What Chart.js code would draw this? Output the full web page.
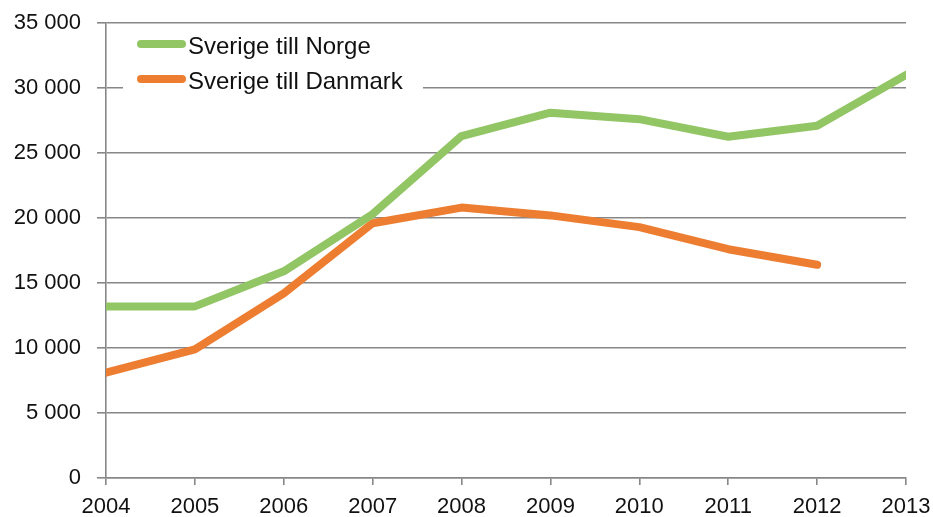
<!DOCTYPE html>
<html>
<head>
<meta charset="utf-8">
<script src="https://cdn.jsdelivr.net/npm/chart.js@4.4.1/dist/chart.umd.min.js"></script>
<style>
  html, body { margin: 0; padding: 0; background: #ffffff; }
  #wrap { position: relative; width: 933px; height: 517px; }
</style>
</head>
<body>
<div id="wrap"><canvas id="c" width="933" height="517"></canvas></div>
<script>
const years = ['2004','2005','2006','2007','2008','2009','2010','2011','2012','2013'];
const norge = [13200, 13200, 15900, 20300, 26300, 28100, 27600, 26250, 27100, 31000];
const danmark = [8100, 9900, 14200, 19600, 20800, 20200, 19300, 17600, 16400, null];
const seriesNames = ['Sverige till Norge', 'Sverige till Danmark'];
const seriesColors = ['#92C564', '#ED7D31'];
const yMin = 0, yMax = 35000, yStep = 5000;

const FONT = 'Liberation Sans';
const gridColor = '#878787';

function fmt(v) {
  return String(v).replace(/\B(?=(\d{3})+(?!\d))/g, ' ');
}

const legendPlugin = {
  id: 'insideLegend',
  afterDraw(chart) {
    const ctx = chart.ctx;
    ctx.save();
    ctx.fillStyle = '#ffffff';
    ctx.fillRect(123, 27, 300, 70);
    const rows = [44, 79];
    chart.data.datasets.forEach((ds, i) => {
      const y = rows[i];
      ctx.strokeStyle = ds.borderColor;
      ctx.lineWidth = 8;
      ctx.lineCap = 'round';
      ctx.beginPath();
      ctx.moveTo(141, y);
      ctx.lineTo(182, y);
      ctx.stroke();
      ctx.fillStyle = '#111111';
      ctx.font = '24px "' + FONT + '"';
      ctx.textAlign = 'left';
      ctx.textBaseline = 'alphabetic';
      ctx.fillText(ds.label, 188, y + 10);
    });
    ctx.restore();
  }
};

new Chart(document.getElementById('c'), {
  type: 'line',
  data: {
    labels: years,
    datasets: [
      {
        label: seriesNames[0],
        data: norge,
        borderColor: seriesColors[0],
        backgroundColor: seriesColors[0],
        borderWidth: 8,
        pointRadius: 0,
        tension: 0,
        borderJoinStyle: 'round',
        borderCapStyle: 'round',
        clip: 0,
        spanGaps: false
      },
      {
        label: seriesNames[1],
        data: danmark,
        borderColor: seriesColors[1],
        backgroundColor: seriesColors[1],
        borderWidth: 8,
        pointRadius: 0,
        tension: 0,
        borderJoinStyle: 'round',
        borderCapStyle: 'round',
        clip: 0,
        spanGaps: false
      }
    ]
  },
  options: {
    responsive: false,
    animation: false,
    devicePixelRatio: 1,
    layout: { padding: { left: 0, right: 27, top: 23, bottom: 0 } },
    plugins: { legend: { display: false }, tooltip: { enabled: false } },
    scales: {
      x: {
        offset: false,
        grid: { display: true, drawOnChartArea: false, drawTicks: true, tickLength: 7, color: gridColor, lineWidth: 1.6 },
        border: { display: true, color: gridColor, width: 1.6 },
        ticks: { color: '#111111', font: { family: FONT, size: 22 }, padding: 9, maxRotation: 0, autoSkip: false },
        afterFit(s) { s.height = 39; s.paddingLeft = 0; s.paddingRight = 0; }
      },
      y: {
        min: yMin, max: yMax,
        grid: { color: gridColor, lineWidth: 1.6, drawTicks: true, tickLength: 9 },
        border: { display: true, color: gridColor, width: 1.6 },
        ticks: { stepSize: yStep, color: '#111111', font: { family: FONT, size: 22 }, padding: 16, callback: v => fmt(v) },
        afterFit(s) { s.width = 106; s.paddingTop = 0; s.paddingBottom = 0; }
      }
    }
  },
  plugins: [legendPlugin]
});
</script>
</body>
</html>
